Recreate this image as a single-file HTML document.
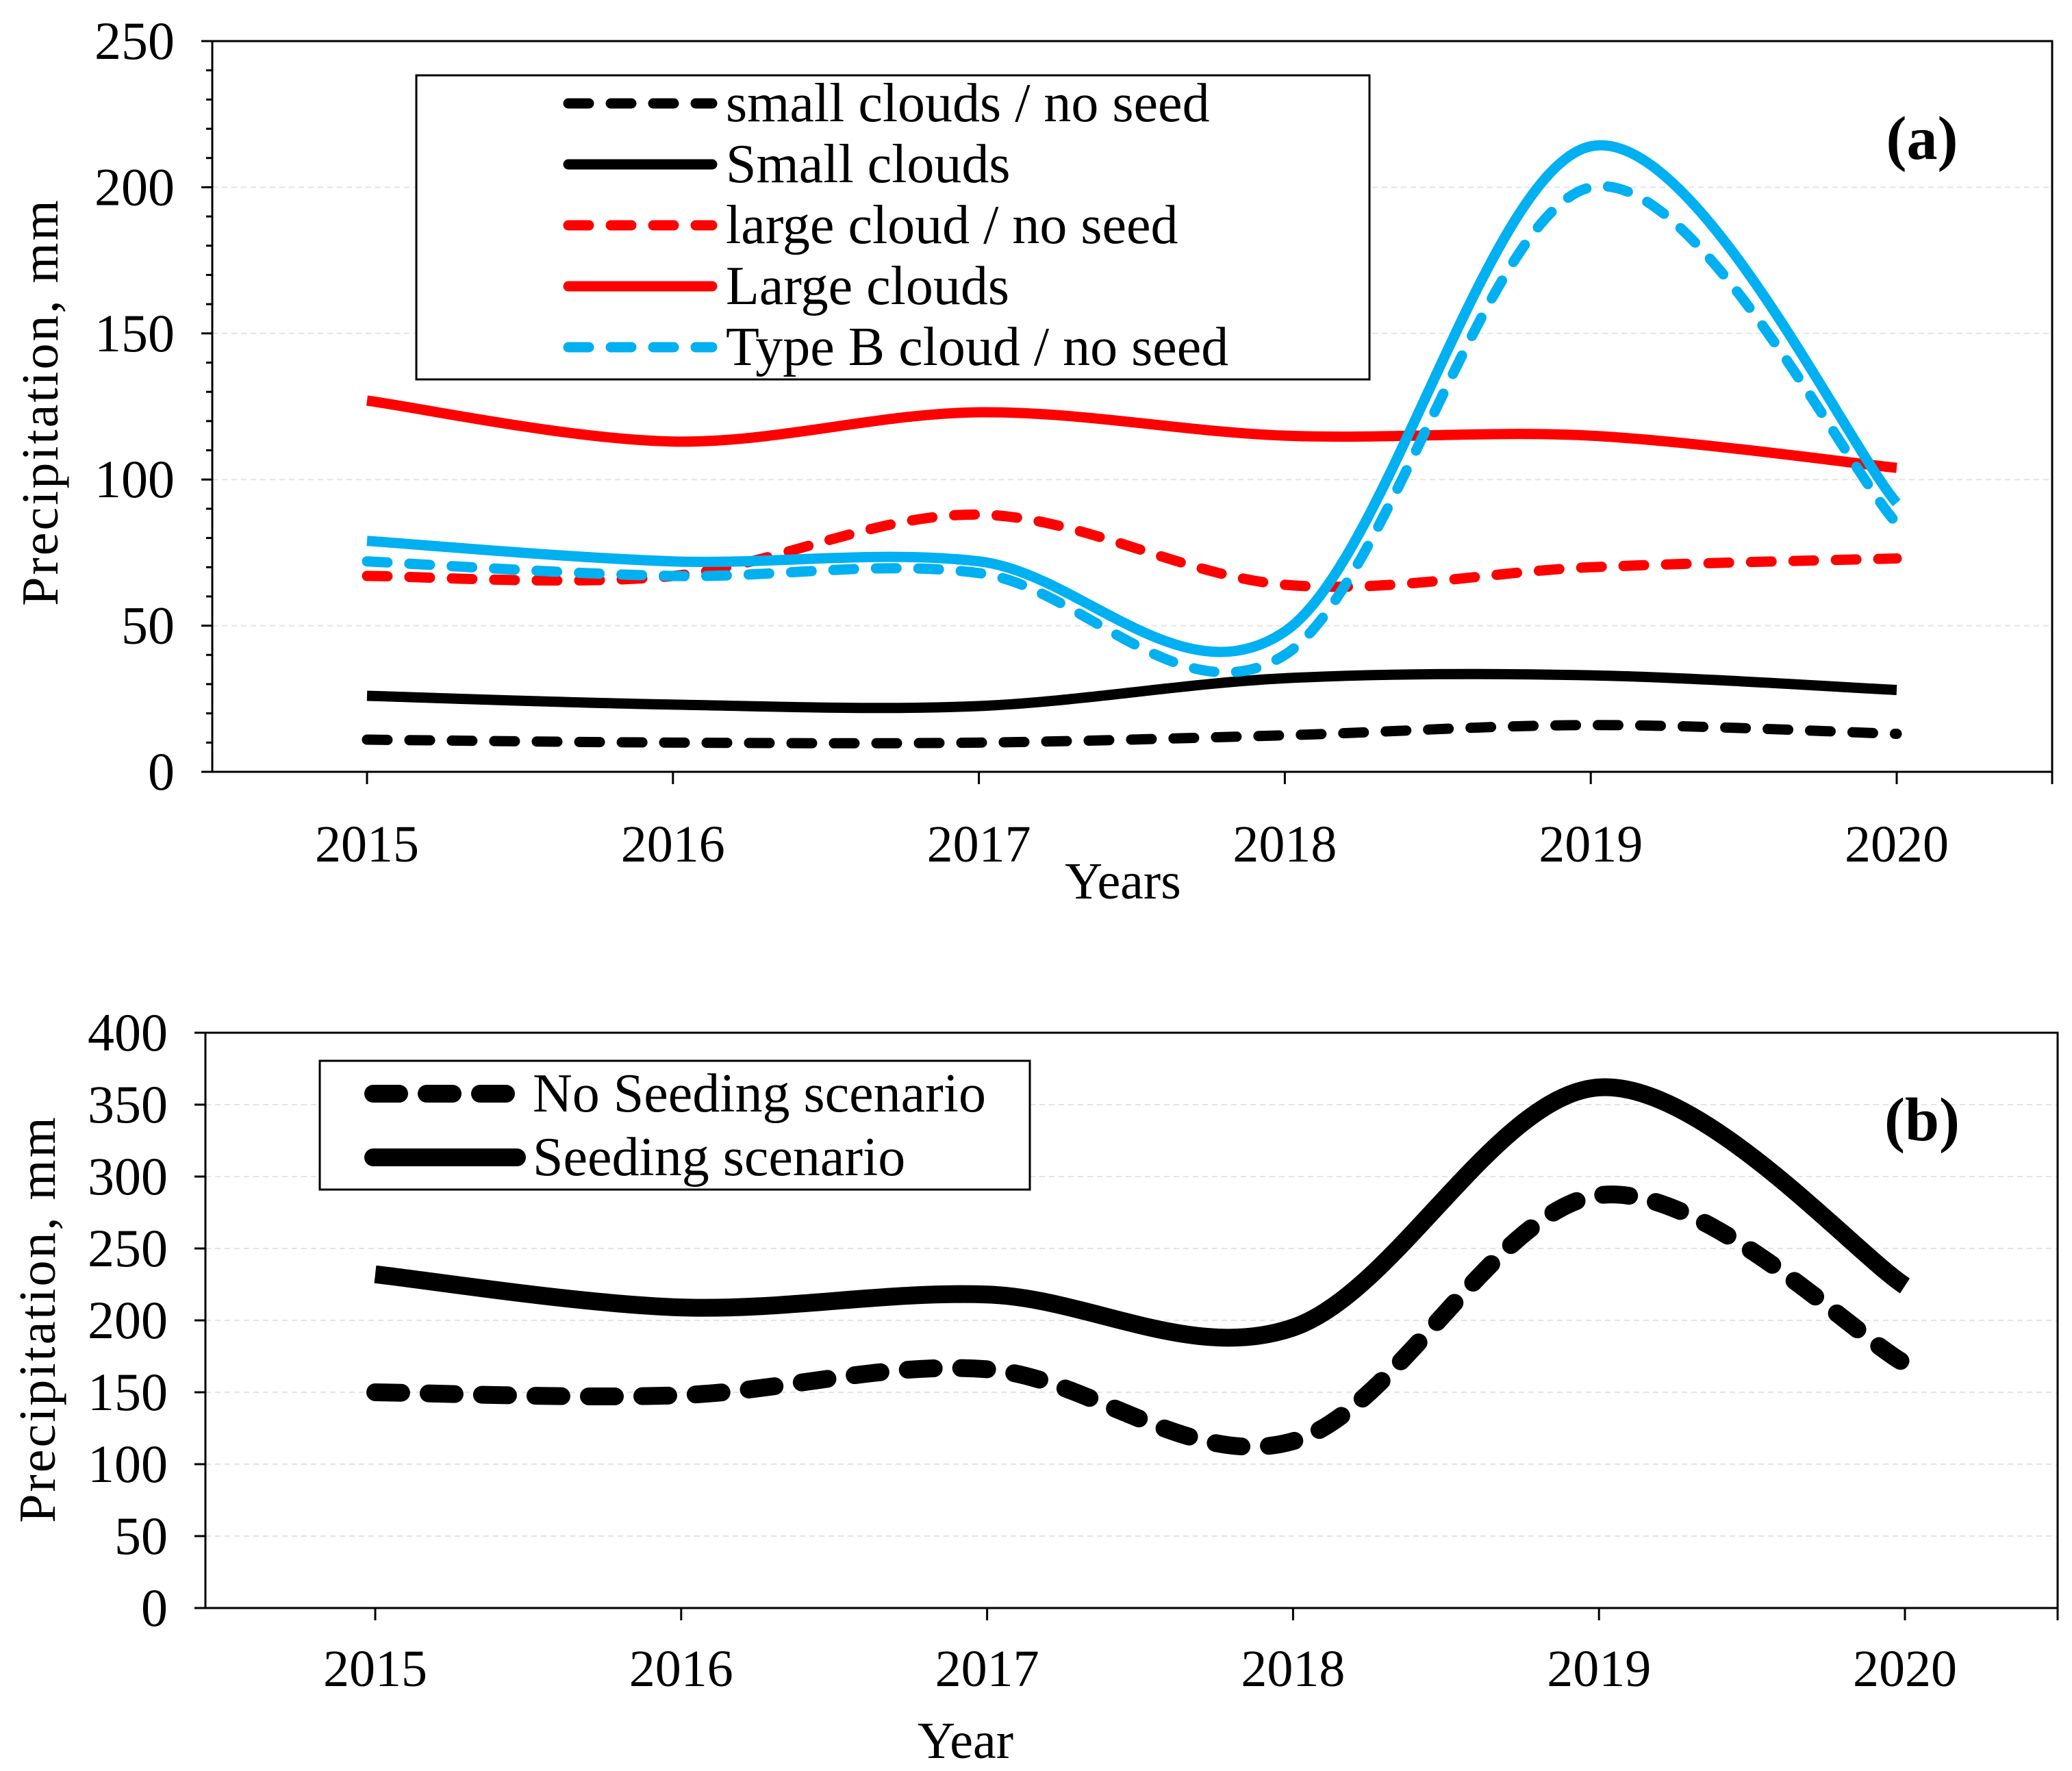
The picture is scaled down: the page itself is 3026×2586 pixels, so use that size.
<!DOCTYPE html>
<html><head><meta charset="utf-8">
<style>
html,body{margin:0;padding:0;background:#fff;}
svg{display:block;}
text{font-family:"Liberation Serif",serif;fill:#000;}
</style></head>
<body>
<svg id="chart" width="3026" height="2586" viewBox="0 0 3026 2586">
<g id="pa"></g>
<g id="pb"></g>
</svg>
<script>
const years = [2015, 2016, 2017, 2018, 2019, 2020];
const smallNoSeed = [11, 10, 10, 12.5, 16, 13];
const smallClouds = [26, 23, 22.5, 32, 33, 28];
const largeNoSeed = [67, 67, 88, 64, 70, 73];
const largeClouds = [127, 113, 123, 115, 115, 104];
const typeBNoSeed = [72, 67, 68, 40, 200, 85];
const typeBSeed = [79, 72, 72, 48, 214, 92];
const noSeeding = [150, 148, 166, 116, 287, 170];
const seeding = [232, 209, 218, 195, 362, 224];
const ticksA = [0, 50, 100, 150, 200, 250];
const ticksB = [0, 50, 100, 150, 200, 250, 300, 350, 400];

const NS = "http://www.w3.org/2000/svg";
function mk(parent, tag, attrs, txt) {
  const e = document.createElementNS(NS, tag);
  for (const k in attrs) e.setAttribute(k, attrs[k]);
  if (txt !== undefined) e.textContent = txt;
  parent.appendChild(e);
  return e;
}
function smoothPath(pts) {
  let d = "M" + pts[0][0] + "," + pts[0][1];
  for (let i = 0; i < pts.length - 1; i++) {
    const p0 = pts[Math.max(i - 1, 0)], p1 = pts[i], p2 = pts[i + 1], p3 = pts[Math.min(i + 2, pts.length - 1)];
    const c1 = [p1[0] + (p2[0] - p0[0]) / 6, p1[1] + (p2[1] - p0[1]) / 6];
    const c2 = [p2[0] - (p3[0] - p1[0]) / 6, p2[1] - (p3[1] - p1[1]) / 6];
    d += " C" + c1[0] + "," + c1[1] + " " + c2[0] + "," + c2[1] + " " + p2[0] + "," + p2[1];
  }
  return d;
}
function panel(g, cfg) {
  const x = y => cfg.x0 + (y - years[0]) * (cfg.x1 - cfg.x0) / (years[years.length - 1] - years[0]);
  const yv = v => cfg.bottom - v * (cfg.bottom - cfg.top) / cfg.max;
  cfg.ticks.forEach(t => {
    if (t > 0 && t < cfg.max) {
      const l = mk(g, "line", {x1: cfg.left, x2: cfg.right, y1: yv(t), y2: yv(t), stroke: "#e4e4e4", "stroke-width": 2, "stroke-dasharray": "8 6"});
      
      
    }
  });
  const fr = mk(g, "rect", {x: cfg.left, y: cfg.top, width: cfg.right - cfg.left, height: cfg.bottom - cfg.top, fill: "none", stroke: "#000", "stroke-width": 3});
  
  
  for (let v = 0; v <= cfg.max; v += cfg.minor) {
    const major = v % cfg.step === 0;
    mk(g, "line", {x1: cfg.left - (major ? 16 : 9), x2: cfg.left, y1: yv(v), y2: yv(v), stroke: "#000", "stroke-width": 3});
  }
  cfg.ticks.forEach(t => {
    const tx = mk(g, "text", {x: cfg.left - 55, y: yv(t) + 26, "text-anchor": "end", "font-size": 78}, t);
    
    
  });
  const xt = years.map(x).concat([cfg.right]);
  xt.forEach(px => mk(g, "line", {x1: px, x2: px, y1: cfg.bottom, y2: cfg.bottom + 18, stroke: "#000", "stroke-width": 3}));
  years.forEach(yr => {
    const tx = mk(g, "text", {x: x(yr), y: cfg.xlabY, "text-anchor": "middle", "font-size": 76}, yr);
    
    
  });
  const xt2 = mk(g, "text", {x: cfg.xtitleX, y: cfg.xtitleY, "text-anchor": "middle", "font-size": 76}, cfg.xtitle);
  
  
  const yt = mk(g, "text", {x: 0, y: 0, "text-anchor": "middle", "font-size": 76, "letter-spacing": 3, transform: "translate(" + cfg.ytX + "," + cfg.ytY + ") rotate(-90)"}, "Precipitation, mm");
  
  
  cfg.series.forEach(s => {
    const pts = years.map((yr, i) => [x(yr), yv(s.data[i])]);
    const p = mk(g, "path", {d: smoothPath(pts), fill: "none", stroke: s.color, "stroke-width": s.w, "stroke-linecap": s.dash ? "round" : "butt", "stroke-dasharray": s.dash || "none"});
    
    
  });
  const L = cfg.legend;
  const lb = mk(g, "rect", {x: L.x, y: L.y, width: L.w, height: L.h, fill: "#fff", stroke: "#000", "stroke-width": 3});
  
  
  L.items.forEach((it, i) => {
    const s = cfg.series[it.idx];
    const cy = L.y0 + i * L.dy;
    const ln = mk(g, "line", {x1: L.lx1, x2: L.lx2, y1: cy, y2: cy, stroke: s.color, "stroke-width": s.w, "stroke-linecap": "round", "stroke-dasharray": s.dash || "none"});
    
    
    const t = mk(g, "text", {x: L.tx, y: cy + 26, "font-size": L.fs}, it.label);
    
    
  });
  const pl = mk(g, "text", {x: cfg.tagX, y: cfg.tagY, "text-anchor": "middle", "font-size": 90, "font-weight": "bold"}, cfg.tag);
  
  
}
panel(document.getElementById("pa"), {
  left: 310, right: 2997, top: 60, bottom: 1127, x0: 536, x1: 2770, max: 250, step: 50, minor: 10, ticks: ticksA,
  xlabY: 1258, xtitle: "Years", xtitleX: 1640, xtitleY: 1312, ytX: 84, ytY: 587,
  tag: "(a)", tagX: 2807, tagY: 232,
  series: [
    {name: "line-small-clouds-no-seed", data: smallNoSeed, color: "#000", w: 15, dash: "30 32"},
    {name: "line-small-clouds", data: smallClouds, color: "#000", w: 15},
    {name: "line-large-cloud-no-seed", data: largeNoSeed, color: "#ff0000", w: 15, dash: "30 32"},
    {name: "line-large-clouds", data: largeClouds, color: "#ff0000", w: 15},
    {name: "line-type-b-cloud-seeded", data: typeBSeed, color: "#00b0f0", w: 15},
    {name: "line-type-b-cloud-no-seed", data: typeBNoSeed, color: "#00b0f0", w: 15, dash: "30 32"}
  ],
  legend: {x: 608, y: 110, w: 1392, h: 444, y0: 151, dy: 89, lx1: 830, lx2: 1040, tx: 1060, fs: 80,
    items: [{idx: 0, label: "small clouds / no seed"}, {idx: 1, label: "Small clouds"}, {idx: 2, label: "large cloud / no seed"}, {idx: 3, label: "Large clouds"}, {idx: 5, label: "Type B cloud / no seed"}]}
});
panel(document.getElementById("pb"), {
  left: 300, right: 3005, top: 1508, bottom: 2348, x0: 548, x1: 2782, max: 400, step: 50, minor: 50, ticks: ticksB,
  xlabY: 2462, xtitle: "Year", xtitleX: 1410, xtitleY: 2567, ytX: 80, ytY: 1926,
  tag: "(b)", tagX: 2807, tagY: 1665,
  series: [
    {name: "line-no-seeding-scenario", data: noSeeding, color: "#000", w: 26, dash: "38 40"},
    {name: "line-seeding-scenario", data: seeding, color: "#000", w: 26}
  ],
  legend: {x: 467, y: 1549, w: 1037, h: 188, y0: 1597, dy: 93, lx1: 545, lx2: 755, tx: 778, fs: 80,
    items: [{idx: 0, label: "No Seeding scenario"}, {idx: 1, label: "Seeding scenario"}]}
});
</script>
</body></html>
